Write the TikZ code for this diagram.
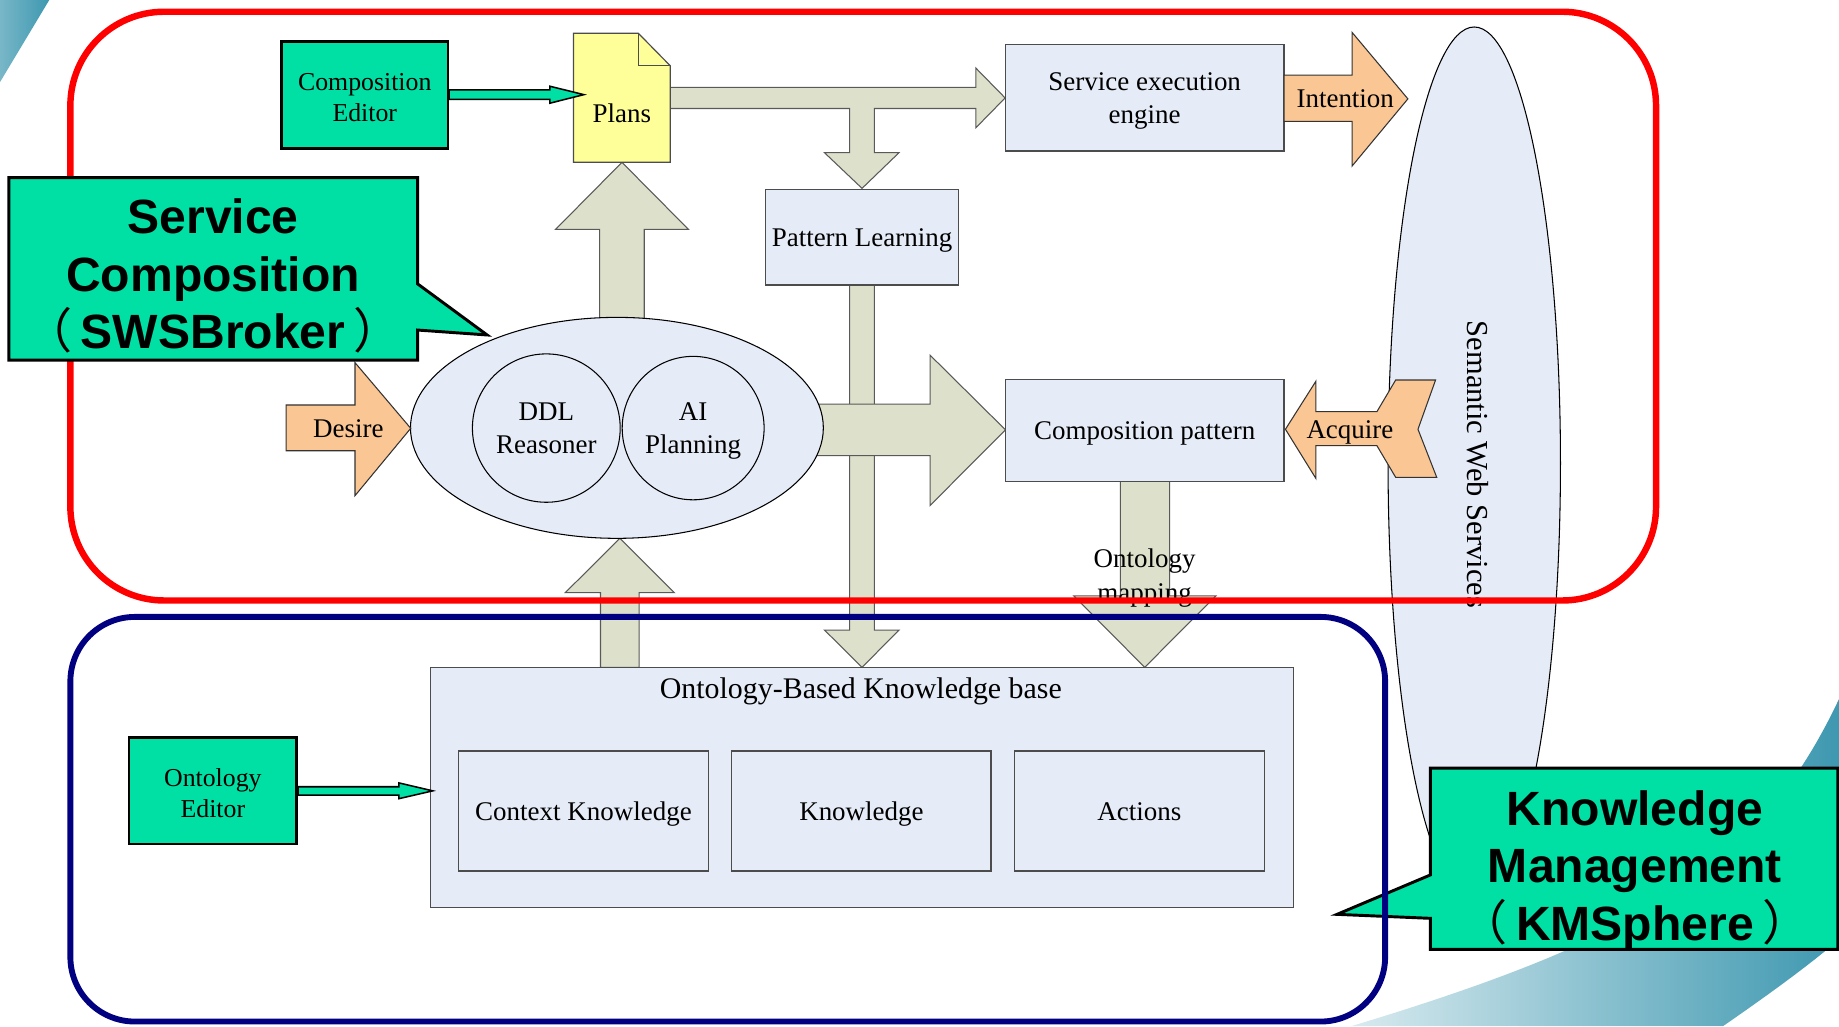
\documentclass[tikz,border=0pt]{standalone}
\usepackage{fontspec}
\setmainfont{Liberation Serif}
\newfontfamily\sansfont{Liberation Sans}
\newfontfamily\cjk{Noto Sans CJK SC}
\usetikzlibrary{shapes.geometric}
\definecolor{kgreen}{RGB}{0,224,164}
\definecolor{kyellow}{RGB}{255,255,153}
\definecolor{lblue}{RGB}{230,236,247}
\definecolor{agray}{RGB}{221,224,203}
\definecolor{aorange}{RGB}{250,198,148}
\definecolor{kteal}{RGB}{62,152,176}
\definecolor{kred}{RGB}{255,0,0}
\definecolor{knavy}{RGB}{0,0,128}
\newcommand{\lpar}{{\cjk\mdseries （}\hspace{7pt}}
\newcommand{\rpar}{\hspace{7pt}{\cjk\mdseries ）}}
\begin{document}
\begin{tikzpicture}[x=1pt,y=-1pt,
  txt/.style={font=\fontsize{23}{28}\selectfont, align=center, inner sep=0pt, text height=20.5pt, text depth=5pt},
  bluebox/.style={draw=black!70, line width=1pt, fill=lblue, inner sep=0pt, font=\fontsize{23}{28}\selectfont, align=center, text height=20.5pt, text depth=5pt},
  greenbox/.style={draw=black, line width=2.2pt, fill=kgreen, inner sep=0pt, font=\fontsize{22}{27}\selectfont, align=center, text height=45.9pt, text depth=0pt},
  oval/.style={ellipse, draw=black, line width=0.9pt, fill=lblue, inner sep=0pt, font=\fontsize{23}{28}\selectfont, align=center, text height=20.5pt, text depth=5pt},
  twolines/.style={text height=48.5pt, text depth=5pt},
  garrow/.style={fill=agray, draw=black!65, line width=0.9pt},
  oarrow/.style={fill=aorange, draw=black!80, line width=0.9pt},
  grarrow/.style={fill=kgreen, draw=black, line width=1.3pt},
  callout/.style={fill=kgreen, draw=black, line width=2.5pt},
  bigtxt/.style={font=\sansfont\bfseries\fontsize{41}{49}\selectfont, align=center, inner sep=0pt, text height=129pt, text depth=6pt}]
\useasboundingbox (0,0) rectangle (1568,875);
\fill[white] (0,0) rectangle (1568,875);
% background swooshes
\shade[left color=kteal!70!white, right color=kteal] (0,0) -- (42,0) -- (0,70) -- cycle;
\shade[left color=kteal!20!white, right color=kteal] (1152,875) .. controls (1400,800) and (1500,740) .. (1568,596) -- (1568,801) .. controls (1540,825) and (1505,850) .. (1469,875) -- cycle;
% semantic web services
\node[oval, rotate=-90, minimum width=744, minimum height=147] (sws) at (1257,395) {};
\node[rotate=-90, inner sep=0pt, font=\fontsize{26}{30}\selectfont] (swstext) at (1260,396) {Semantic Web Services};
% grey block arrows
\draw[garrow] (571,74.5) -- (832,74.5) -- (832,58) -- (857,83.5) -- (832,109) -- (832,92.5) -- (745.5,92.5) -- (745.5,130.2) -- (766.5,130.2) -- (735,160.6) -- (703,130.2) -- (724.4,130.2) -- (724.4,92.5) -- (571,92.5) -- cycle;
\draw[garrow] (511.3,290) -- (511.3,195.5) -- (473.8,195.5) -- (530.3,138.4) -- (586.9,195.5) -- (549.3,195.5) -- (549.3,290) -- cycle;
\draw[garrow] (724.4,243) -- (724.4,537.2) -- (703,537.2) -- (735,569) -- (766.5,537.2) -- (745.5,537.2) -- (745.5,243) -- cycle;
\draw[garrow] (680,344.6) -- (793,344.6) -- (793,302.8) -- (857.3,366.5) -- (793,431) -- (793,388.4) -- (680,388.4) -- cycle;
\draw[garrow] (955.3,410.3) -- (955.3,508) -- (915.5,508) -- (976,569) -- (1036.8,508) -- (997.2,508) -- (997.2,410.3) -- cycle;
\draw[garrow] (512,569) -- (512,505.3) -- (482,505.3) -- (528.5,459) -- (575,505.3) -- (545,505.3) -- (545,569) -- cycle;
% boxes
\node[bluebox, twolines, minimum width=237.5, minimum height=90.8] (see) at (976,83.4) {Service execution\\engine};
\node[bluebox, minimum width=164, minimum height=81.6] (pl) at (735,202.2) {Pattern Learning};
\node[bluebox, minimum width=237.5, minimum height=86.6] (cp) at (976,367) {Composition pattern};
\node[bluebox, minimum width=736, minimum height=204.6] (kb) at (735,671.3) {};
\node[txt, font=\fontsize{25.5}{30}\selectfont, text height=22.7pt, text depth=5.5pt] (kbtitle) at (734,587) {Ontology-Based Knowledge base};
\node[bluebox, minimum width=213, minimum height=102.3] (ck) at (497.5,691.5) {Context Knowledge};
\node[bluebox, minimum width=221, minimum height=102.3] (kn) at (734.5,691.5) {Knowledge};
\node[bluebox, minimum width=213, minimum height=102.3] (ac) at (971.5,691.5) {Actions};
% plans document
\filldraw[fill=kyellow, draw=black!70, line width=1pt] (489,28.4) -- (544.3,28.4) -- (571.4,56) -- (571.4,138.4) -- (489,138.4) -- cycle;
\draw[black!70, line width=1pt] (544.3,28.4) -- (544.3,56) -- (571.4,56);
\node[txt] (plans) at (530.2,96.5) {Plans};
% green editors
\node[greenbox, minimum width=141.7, minimum height=91] (ce) at (311,81) {Composition\\Editor};
\node[greenbox, minimum width=143, minimum height=90.7] (oe) at (181.5,674.3) {Ontology\\Editor};
\draw[grarrow] (ce.east |- 0,76.7) -- (468.8,76.7) -- (468.8,73.5) -- (497.8,80.7) -- (468.8,88) -- (468.8,84.7) -- (ce.east |- 0,84.7) -- cycle;
\draw[grarrow] (oe.east |- 0,670.8) -- (340,670.8) -- (340,667.5) -- (369,674.3) -- (340,681) -- (340,677.9) -- (oe.east |- 0,677.9) -- cycle;
% reasoning ellipse
\node[oval, minimum width=352, minimum height=188.4] (reason) at (526,364.8) {};
\node[oval, twolines, minimum width=126, minimum height=126.5] (ddl) at (465.8,365) {DDL\\Reasoner};
\node[oval, twolines, minimum width=121, minimum height=122.3] (ai) at (591,365) {AI\\Planning};
% orange arrows
\draw[oarrow] (244,345.3) -- (302.7,345.3) -- (302.7,309.2) -- (350.2,365.2) -- (302.7,422.6) -- (302.7,384.3) -- (244,384.3) -- cycle;
\node[txt] (desire) at (297,365.5) {Desire};
\draw[oarrow] (1094.8,64) -- (1152.8,64) -- (1152.8,27.6) -- (1200.4,84.3) -- (1152.8,141.6) -- (1152.8,103.5) -- (1094.8,103.5) -- cycle;
\node[txt] (intention) at (1147,84) {Intention};
\draw[oarrow] (1096,366) -- (1122,325) -- (1122,351) -- (1174,351) -- (1190,324) -- (1224,324) -- (1209,366) -- (1225,407) -- (1190,407) -- (1174,380) -- (1122,380) -- (1122,408) -- cycle;
\node[txt] (acquire) at (1151,366) {Acquire};
\node[txt, font=\fontsize{23}{29}\selectfont, text height=49.5pt, text depth=5pt] (omap) at (976,490.5) {Ontology\\mapping};
% red frame
\draw[kred, line width=5.5pt, rounded corners=80pt] (60,10) rectangle (1412,512);
% KM callout
\draw[callout] (1219.6,655) -- (1567,655) -- (1567,809.5) -- (1219.6,809.5) -- (1219.6,783) -- (1140,779.6) -- (1219.6,746) -- cycle;
\node[bigtxt] (kmlabel) at (1394,740) {Knowledge\\Management\\\lpar KMSphere\rpar};
% blue frame
\draw[knavy, line width=5pt, rounded corners=55pt] (60,526) rectangle (1181,871);
% SC callout
\draw[callout] (7.5,151.5) -- (356,151.5) -- (356,242) -- (415.3,285.6) -- (356,281.4) -- (356,307) -- (7.5,307) -- cycle;
\node[bigtxt] (sclabel) at (181.7,236) {Service\\Composition\\\lpar SWSBroker\rpar};
\end{tikzpicture}
\end{document}
